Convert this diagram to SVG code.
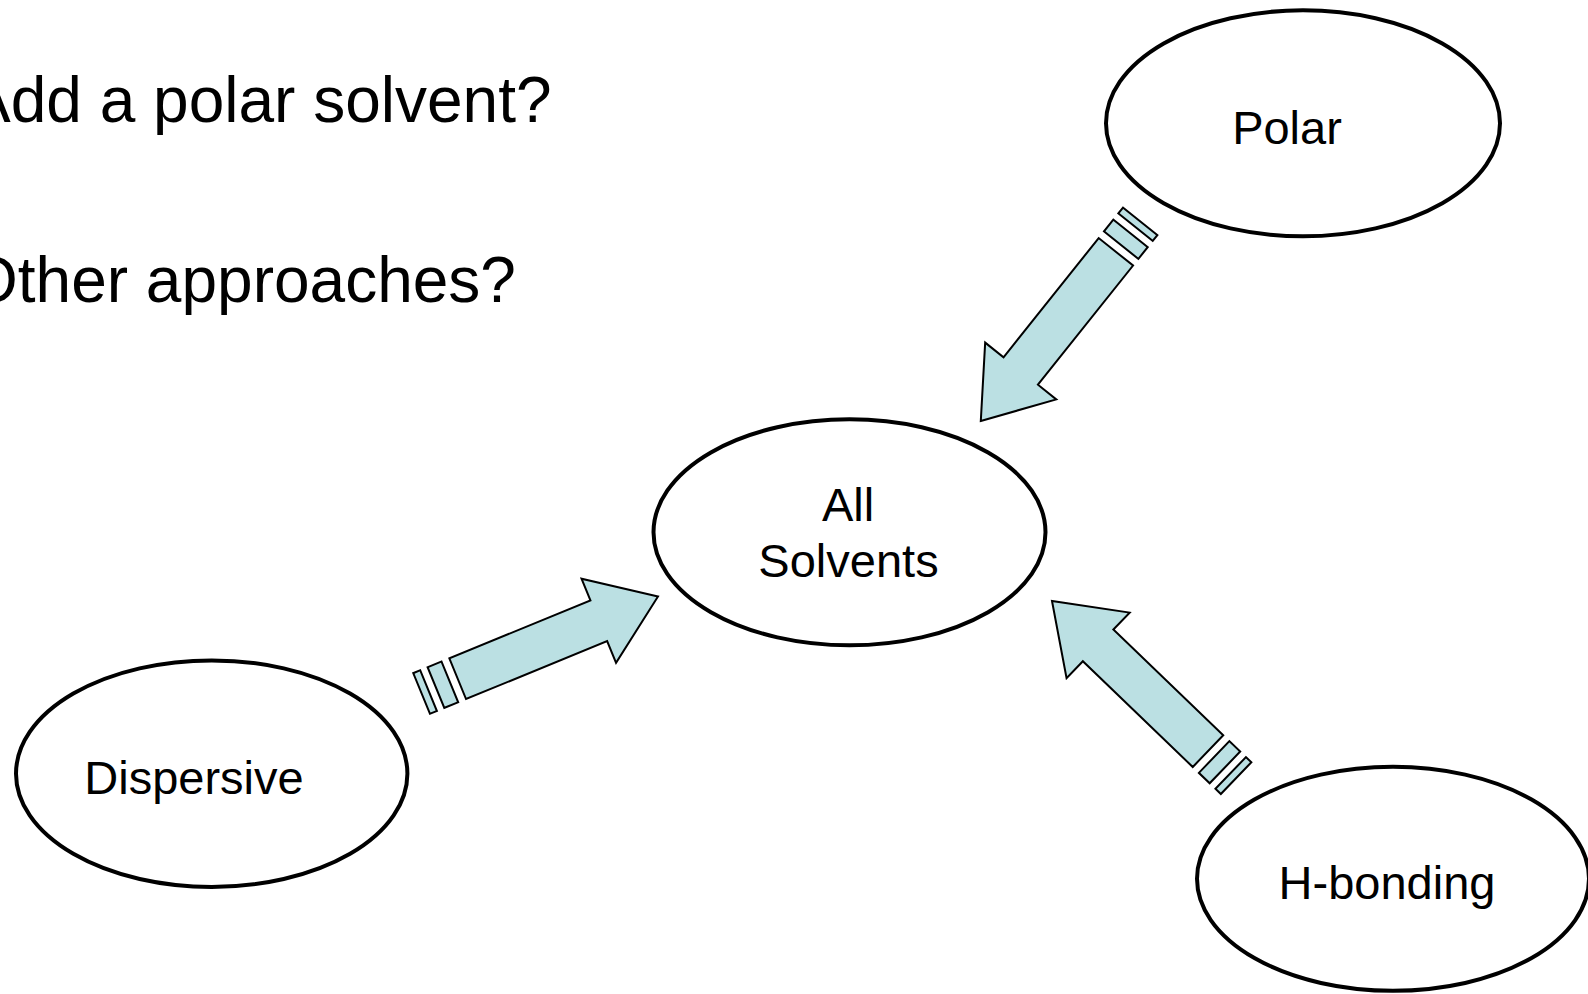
<svg xmlns="http://www.w3.org/2000/svg" xmlns:xlink="http://www.w3.org/1999/xlink" width="1588" height="994" viewBox="0 0 1588 994">
<style>
.node{fill:#ffffff;stroke:#000000;stroke-width:4}
.lbl{font-family:"Liberation Sans",Arial,sans-serif;font-size:47px;fill:#000000;text-anchor:middle}
.head{font-family:"Liberation Sans",Arial,sans-serif;font-size:64px;fill:#000000}
.arr{fill:#BBE0E3;stroke:#000000;stroke-width:2;stroke-linejoin:miter}
</style>
<defs>
<g id="sarrow">
<path class="arr" d="M0,0 L-64,-45.5 L-64,-22 L-216.5,-22 L-216.5,22 L-64,22 L-64,45.5 Z"/>
<rect class="arr" x="-240" y="-22" width="15" height="44"/>
<rect class="arr" x="-255.5" y="-22" width="7.5" height="44"/>
</g>
</defs>
<rect width="1588" height="994" fill="#ffffff"/>
<g id="title">
<text class="head" x="-32" y="122">Add a polar solvent?</text>
<text class="head" x="-32" y="302">Other approaches?</text>
</g>
<g id="connectors">
<use xlink:href="#sarrow" transform="translate(980.8,421) rotate(128.6)"/>
<use xlink:href="#sarrow" transform="translate(658,596.5) rotate(-22.3)"/>
<use xlink:href="#sarrow" transform="translate(1052,601) rotate(-136.1)"/>
</g>
<g id="polar">
<ellipse class="node" cx="1303" cy="123.3" rx="197" ry="113"/>
<text class="lbl" x="1287" y="143.5">Polar</text>
</g>
<g id="all-solvents">
<ellipse class="node" cx="849.5" cy="532.3" rx="196" ry="113"/>
<text class="lbl" x="848" y="521">All</text>
<text class="lbl" x="848.5" y="577">Solvents</text>
</g>
<g id="dispersive">
<ellipse class="node" cx="211.7" cy="773.7" rx="195.7" ry="113.3"/>
<text class="lbl" x="194" y="793.5">Dispersive</text>
</g>
<g id="h-bonding">
<ellipse class="node" cx="1393" cy="878.8" rx="196" ry="112"/>
<text class="lbl" x="1387" y="898.5">H-bonding</text>
</g>
</svg>
